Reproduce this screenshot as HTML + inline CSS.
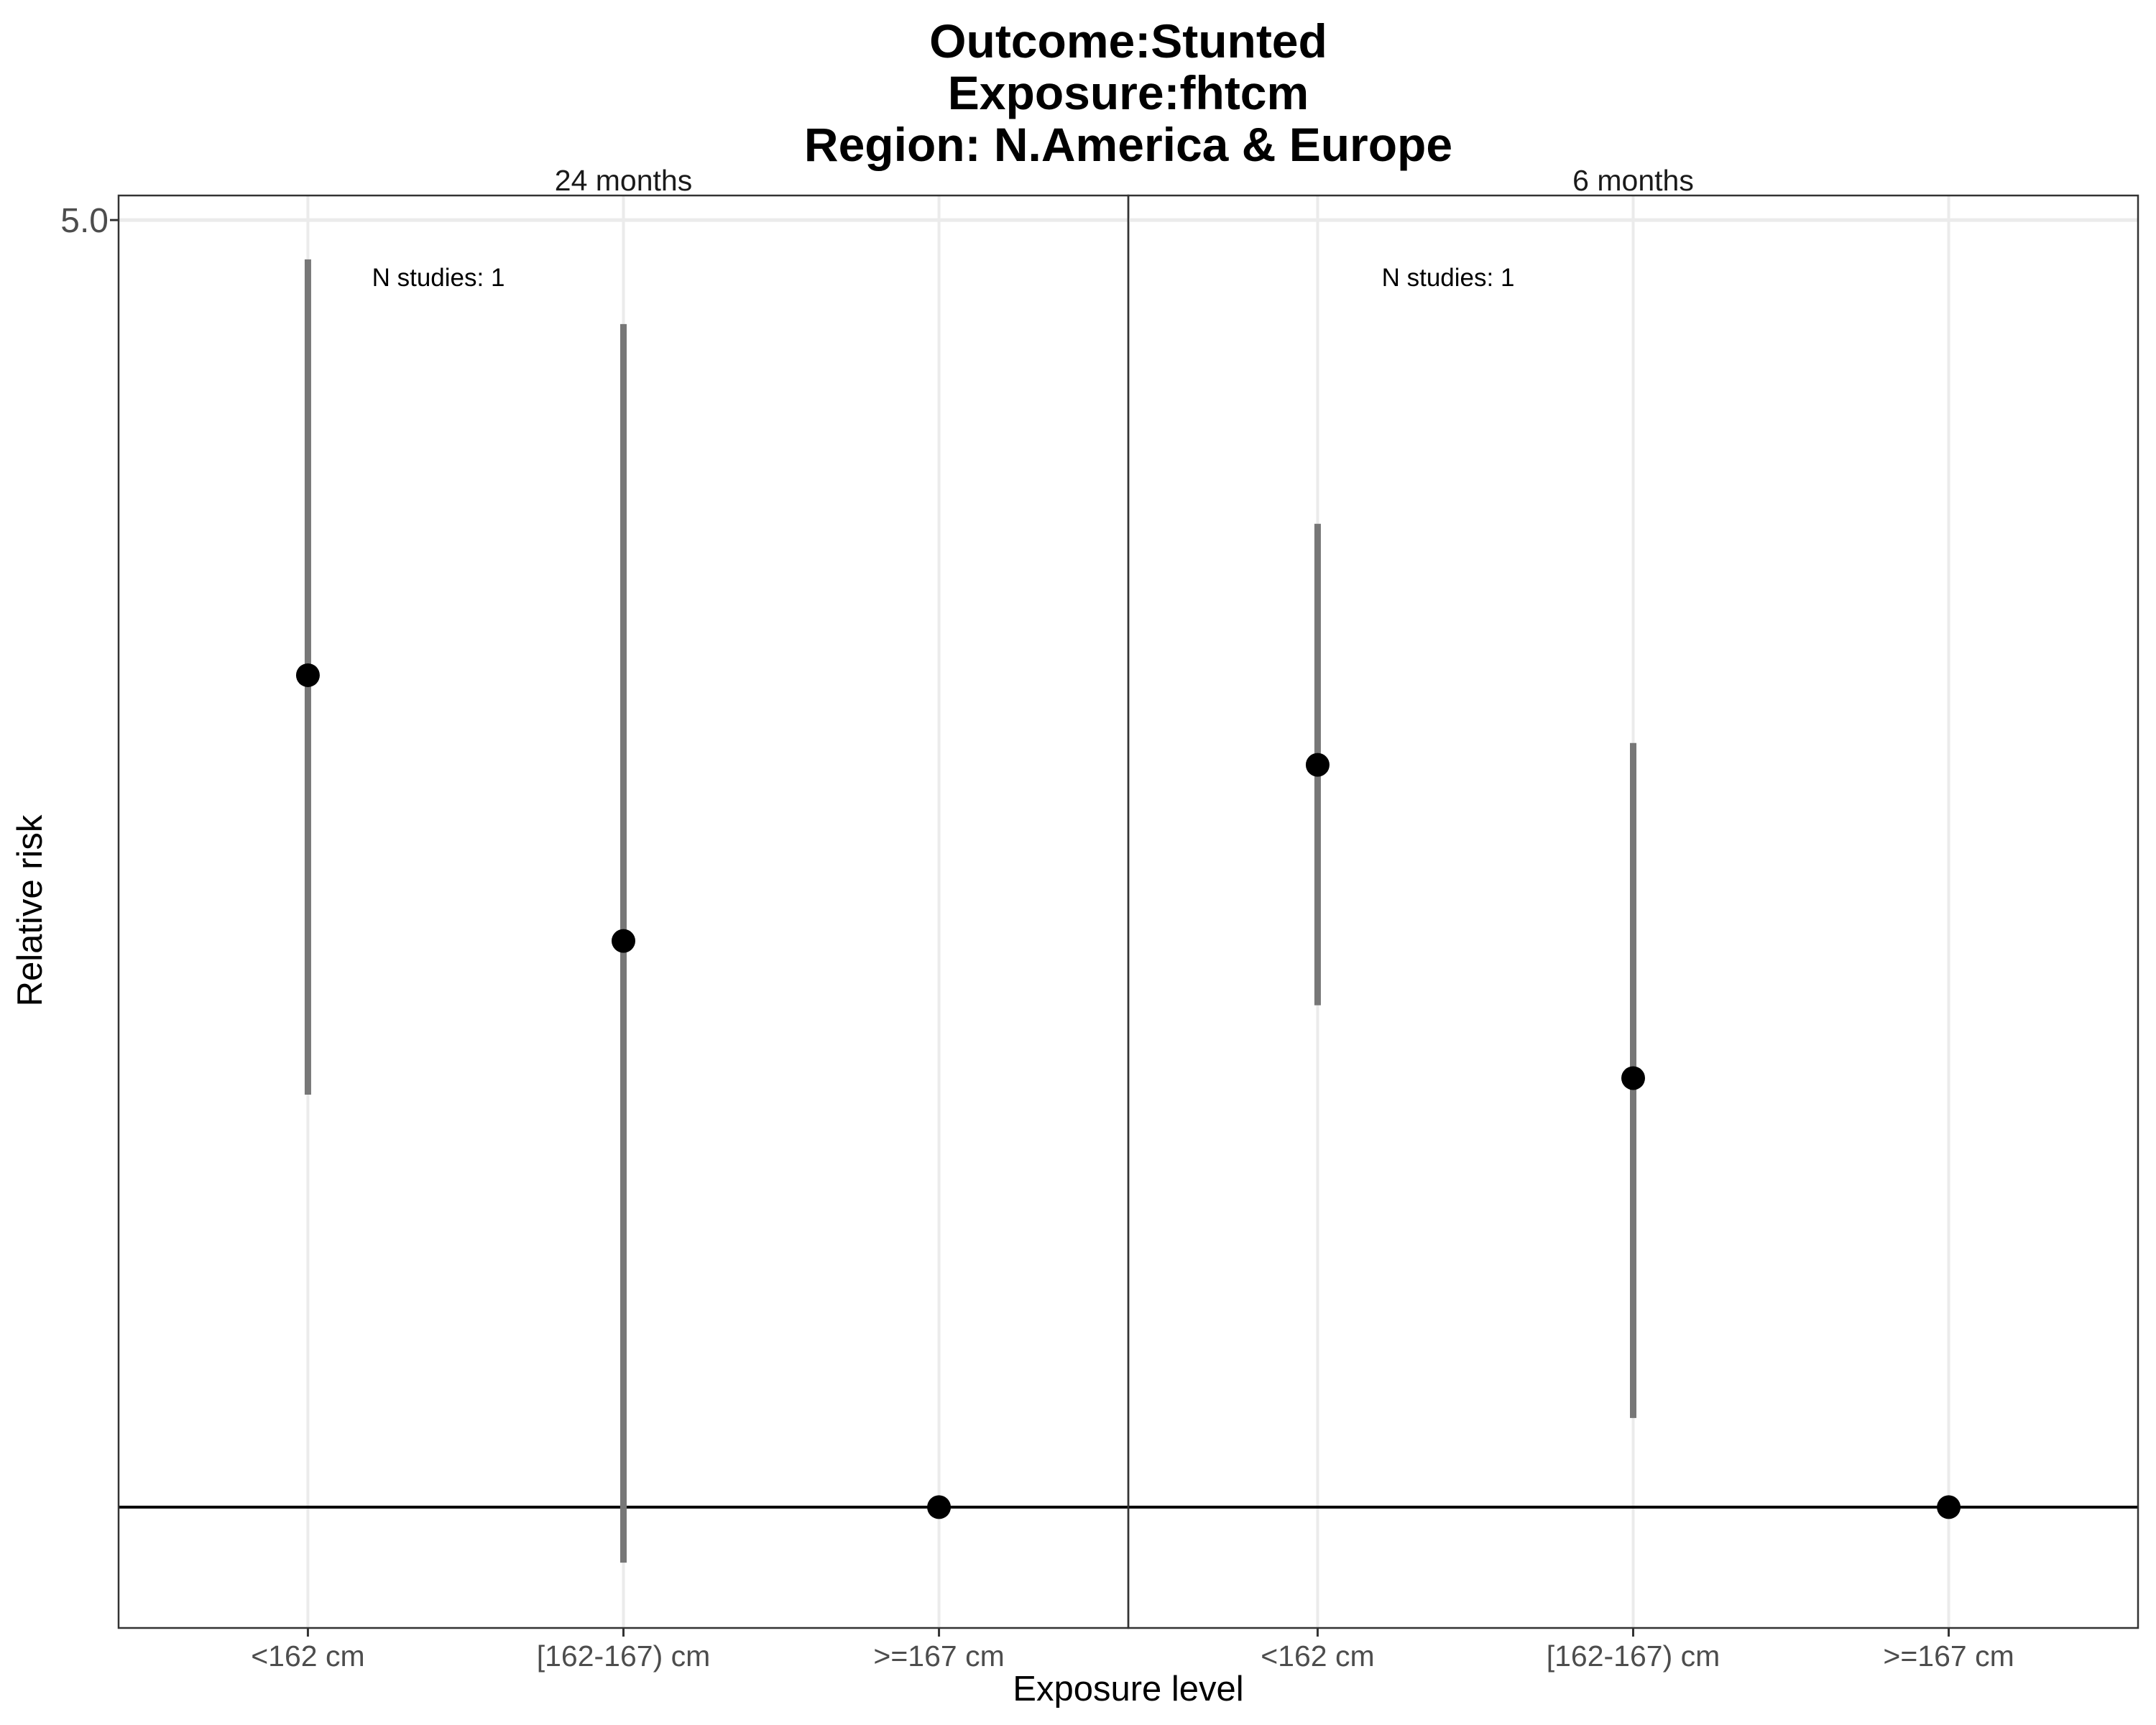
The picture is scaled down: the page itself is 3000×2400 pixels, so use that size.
<!DOCTYPE html>
<html><head><meta charset="utf-8"><style>
html,body{margin:0;padding:0;background:#fff}
svg{display:block;font-family:"Liberation Sans",Arial,sans-serif}
</style></head><body>
<svg id="chart" width="3000" height="2400" viewBox="0 0 3000 2400" xmlns="http://www.w3.org/2000/svg">
<rect width="3000" height="2400" fill="#fff"/>
<g font-weight="bold" font-size="66" text-anchor="middle" fill="#000">
<text x="1570" y="80">Outcome:Stunted</text>
<text x="1570" y="152">Exposure:fhtcm</text>
<text x="1570" y="224">Region: N.America &amp; Europe</text>
</g>
<g id="plot"></g>
<text x="1570" y="2366" font-size="49" text-anchor="middle" fill="#000">Exposure level</text>
<text transform="translate(58,1267) rotate(-90)" font-size="49" text-anchor="middle" fill="#000">Relative risk</text>
</svg>
<script>
const panels = ["24 months", "6 months"];
const categories = ["<162 cm", "[162-167) cm", ">=167 cm"];
const rr24 = [2.83, 2.03, 1.0];
const lo24 = [1.675, 0.933, 1.0];
const hi24 = [4.76, 4.39, 1.0];
const rr6 = [2.53, 1.71, 1.0];
const lo6 = [1.873, 1.118, 1.0];
const hi6 = [3.42, 2.60, 1.0];
const yTicks = [5.0];
const yTickLabels = ["5.0"];
const nStudies = ["N studies: 1", "N studies: 1"];

const NS = "http://www.w3.org/2000/svg";
const g = document.getElementById('plot');
const top_ = 272, bot = 2265, yMinL = -0.0656, yMaxL = 0.7123;
const panelLeft = [165, 1570], panelW = 1405;
function y(v){ return bot - (Math.log10(v) - yMinL) / (yMaxL - yMinL) * (bot - top_); }
function x(p, i){ return panelLeft[p] + (i + 1 - 0.4) / 3.2 * panelW; }
function el(tag, attrs){ const e = document.createElementNS(NS, tag); for (const k in attrs) e.setAttribute(k, attrs[k]); g.appendChild(e); return e; }
const series = [[rr24, lo24, hi24], [rr6, lo6, hi6]];
panels.forEach((name, p) => {
  const L = panelLeft[p], R = L + panelW;
  yTicks.forEach(t => {
    const gl = el('line', {x1: L, x2: R, y1: y(t), y2: y(t), stroke: '#ebebeb', 'stroke-width': 5});
    
    
  });
  categories.forEach((c, i) => {
    const gl = el('line', {x1: x(p, i), x2: x(p, i), y1: top_, y2: bot, stroke: '#ebebeb', 'stroke-width': 4});
    
    
    const tk = el('line', {x1: x(p, i), x2: x(p, i), y1: bot, y2: bot + 12, stroke: '#333', 'stroke-width': 3});
    
    
    const tl = el('text', {x: x(p, i), y: 2318, 'font-size': 41, 'text-anchor': 'middle', fill: '#4d4d4d'});
    tl.textContent = c;
    
    
  });
  const st = el('text', {x: (L + R) / 2, y: 265, 'font-size': 41, 'text-anchor': 'middle', fill: '#1a1a1a'});
  st.textContent = name;
  
  
  const rl = el('line', {x1: L, x2: R, y1: y(1), y2: y(1), stroke: '#000', 'stroke-width': 4});
  
  
  const [rr, lo, hi] = series[p];
  categories.forEach((c, i) => {
    if (hi[i] !== lo[i]) {
      const eb = el('line', {x1: x(p, i), x2: x(p, i), y1: y(hi[i]), y2: y(lo[i]), stroke: '#777', 'stroke-width': 9});
      
      
    }
    const pt = el('circle', {cx: x(p, i), cy: y(rr[i]), r: 16.5, fill: '#000'});
    
    
  });
  const ns = el('text', {x: L + 445, y: 398, 'font-size': 35, 'text-anchor': 'middle', fill: '#000'});
  ns.textContent = nStudies[p];
  
  
  const br = el('rect', {x: L, y: top_, width: panelW, height: bot - top_, fill: 'none', stroke: '#333', 'stroke-width': 2.5});
  
  
});
yTicks.forEach((t, i) => {
  const tk = el('line', {x1: 153, x2: 165, y1: y(t), y2: y(t), stroke: '#333', 'stroke-width': 3});
  
  
  const tl = el('text', {x: 151, y: y(t) + 17, 'font-size': 48, 'text-anchor': 'end', fill: '#4d4d4d'});
  tl.textContent = yTickLabels[i];
  
  
});
</script>
</body></html>
